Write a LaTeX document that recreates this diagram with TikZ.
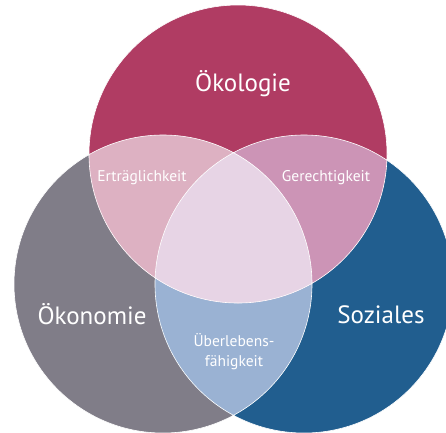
\documentclass[tikz,border=0pt]{standalone}
\usepackage{fontspec}
\setmainfont{PT Sans}
\definecolor{oekored}{HTML}{B03C63}
\definecolor{oekogray}{HTML}{807D88}
\definecolor{oekoblue}{HTML}{215E8F}
\definecolor{rosa}{HTML}{DDB1C2}
\definecolor{mauve}{HTML}{CC94B6}
\definecolor{hellblau}{HTML}{9AB2D3}
\definecolor{mitte}{HTML}{E7D4E5}

\begin{document}
\begin{tikzpicture}[x=1pt,y=-1pt,
  bigtext/.style={text=white,font=\fontsize{25}{27}\selectfont},
  smalltext/.style={text=white,font=\fontsize{15.5}{20}\selectfont,align=center}]
\useasboundingbox (0,0) rectangle (446,432);
\coordinate (T) at (238,154);
\coordinate (L) at (163,284);
\coordinate (R) at (304,284);
% the three circles
\fill[oekogray] (L) circle (149);
\fill[oekoblue] (R) circle (149);
\fill[oekored] (T) circle (149);
% overlaps
\begin{scope}
\clip (L) circle (149);
\fill[hellblau] (R) circle (149);
\end{scope}
\begin{scope}
\clip (T) circle (149);
\fill[rosa] (L) circle (149);
\fill[mauve] (R) circle (149);
\clip (L) circle (149);
\fill[mitte] (R) circle (149);
\end{scope}
\draw[white,line width=0.6pt] (T) circle (149) (L) circle (149) (R) circle (149);
% labels
\node[bigtext] (oekologie) at (243,84) {Ökologie};
\node[bigtext] (oekonomie) at (92,314) {Ökonomie};
\node[bigtext] (soziales) at (381,315) {Soziales};
\node[smalltext] (vertraeglich) at (142,178) {Erträglichkeit};
\node[smalltext] (gerecht) at (326,178) {Gerechtigkeit};
\node[smalltext] (ueberleben) at (234,352) {Überlebens-\\fähigkeit};
\end{tikzpicture}
\end{document}
